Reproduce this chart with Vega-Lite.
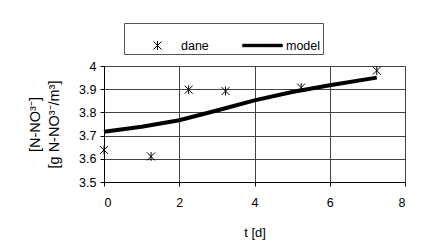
{
  "$schema": "https://vega.github.io/schema/vega-lite/v6.json",
  "width": 301,
  "height": 116,
  "autosize": {"type": "none"},
  "padding": {"left": 104, "top": 66, "right": 16, "bottom": 61},
  "background": "white",
  "config": {
    "font": "Liberation Sans",
    "view": {"stroke": "#808080", "strokeWidth": 1},
    "axis": {
      "labelFont": "Liberation Sans",
      "titleFont": "Liberation Sans",
      "labelColor": "black",
      "titleColor": "black",
      "labelFontSize": 12.5,
      "titleFontSize": 13,
      "titleFontWeight": "normal",
      "domainColor": "black",
      "tickColor": "black",
      "gridColor": "#444",
      "gridOpacity": 1,
      "tickSize": 4,
      "labelOverlap": false
    }
  },
  "datasets": {
    "dane": [
      {"t": 0, "v": 3.638, "series": "dane"},
      {"t": 1.25, "v": 3.61, "series": "dane"},
      {"t": 2.25, "v": 3.898, "series": "dane"},
      {"t": 3.23, "v": 3.892, "series": "dane"},
      {"t": 5.24, "v": 3.907, "series": "dane"},
      {"t": 7.25, "v": 3.98, "series": "dane"}
    ],
    "model": [
      {"t": 0, "v": 3.717},
      {"t": 1, "v": 3.738},
      {"t": 2, "v": 3.766},
      {"t": 3, "v": 3.808},
      {"t": 4, "v": 3.852},
      {"t": 5, "v": 3.888},
      {"t": 6, "v": 3.917},
      {"t": 7.25, "v": 3.95}
    ]
  },
  "encoding": {
    "x": {
      "field": "t", "type": "quantitative",
      "scale": {"domain": [0, 8], "nice": false},
      "axis": {"title": "t [d]", "values": [0, 2, 4, 6, 8], "labelPadding": 10, "titlePadding": 18, "grid": true}
    },
    "y": {
      "field": "v", "type": "quantitative",
      "scale": {"domain": [3.5, 4], "nice": false, "zero": false},
      "axis": {
        "title": ["[N-NO³⁻]", "[g N-NO³⁻/m³]"],
        "values": [3.5, 3.6, 3.7, 3.8, 3.9, 4],
        "format": ".1~f",
        "labelPadding": 4,
        "titleAngle": -90,
        "titleAlign": "center",
        "titleBaseline": "top",
        "titleFontSize": 14.5,
        "titleX": -76,
        "titleY": 58,
        "titleLineHeight": 19,
        "grid": true
      }
    }
  },
  "layer": [
    {
      "data": {"name": "model"},
      "mark": {"type": "line", "color": "black", "strokeWidth": 4, "clip": false}
    },
    {
      "data": {"name": "dane"},
      "mark": {"type": "point", "filled": false, "stroke": "black", "strokeWidth": 1, "size": 1600, "opacity": 1, "clip": false},
      "encoding": {
        "shape": {
          "field": "series", "type": "nominal",
          "scale": {
            "domain": ["dane", "model"],
            "range": ["M-0.2,-0.2L0.2,0.2M-0.2,0.2L0.2,-0.2M0,-0.22L0,0.22", "M-1,-0.06H1M-1,-0.04H1M-1,-0.02H1M-1,0H1M-1,0.02H1M-1,0.04H1M-1,0.06H1"]
          },
          "legend": {
            "title": null,
            "orient": "none",
            "legendX": 20,
            "legendY": -43,
            "direction": "horizontal",
            "strokeColor": "#555",
            "padding": 2,
            "symbolOffset": 11,
            "labelFont": "Liberation Sans",
            "labelFontSize": 12.5,
            "labelColor": "black",
            "labelOffset": 3,
            "columnPadding": 22,
            "symbolSize": 1600,
            "symbolStrokeColor": "black",
            "symbolStrokeWidth": 1
          }
        }
      }
    }
  ]
}
